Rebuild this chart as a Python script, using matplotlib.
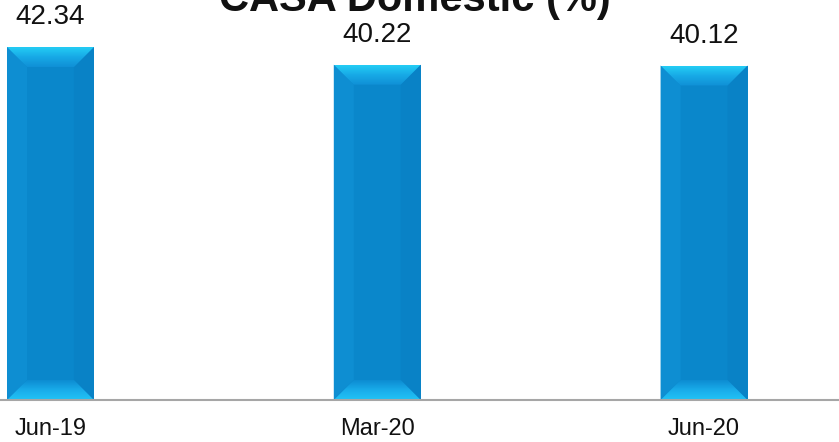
import numpy as np
import matplotlib
matplotlib.use("Agg")
import matplotlib.pyplot as plt
from matplotlib.patches import Polygon
from matplotlib.colors import LinearSegmentedColormap

plt.rcParams["font.family"] = ["Liberation Sans", "DejaVu Sans"]

periods = ["Jun-19", "Mar-20", "Jun-20"]
casa_values = [42.34, 40.22, 40.12]

face_color = "#0A87CB"
left_color = "#0E8ED2"
right_color = "#0982C6"
top_cmap = LinearSegmentedColormap.from_list("top", ["#1090D6", "#17A9E6", "#24CDF5"])
bottom_cmap = LinearSegmentedColormap.from_list("bot", ["#0D8CD2", "#19ACEA", "#22C4F6"])


def gradient_poly(ax, pts, cmap, flip=False):
    poly = Polygon(pts, closed=True, facecolor="none", edgecolor="none")
    ax.add_patch(poly)
    xs = [p[0] for p in pts]
    ys = [p[1] for p in pts]
    grad = np.linspace(0, 1, 64).reshape(-1, 1)
    if flip:
        grad = grad[::-1]
    im = ax.imshow(grad, cmap=cmap, aspect="auto", origin="lower",
                   extent=[min(xs), max(xs), min(ys), max(ys)], zorder=3)
    im.set_clip_path(poly)


fig = plt.figure(figsize=(8.39, 4.42), dpi=100)
ax = fig.add_axes([0, 42 / 442, 1, 400 / 442])

x = np.arange(len(periods))
width = 0.266
ax.bar(x, casa_values, width=width, color=face_color, zorder=2)

ax.set_xlim(-0.1545, 2.413)
ax.set_ylim(0, 47.98)

# bevel size, ~20 px, converted to data units
bev_px = 20
inv = ax.transData.inverted()
p0 = inv.transform((0, 0))
p1 = inv.transform((bev_px, bev_px))
dx = p1[0] - p0[0]
dy = p1[1] - p0[1]

for xi, v in zip(x, casa_values):
    l, r = xi - width / 2, xi + width / 2
    # side bevels
    ax.add_patch(Polygon([(l, 0), (l + dx, dy), (l + dx, v - dy), (l, v)],
                         closed=True, facecolor=left_color, edgecolor="none", zorder=3))
    ax.add_patch(Polygon([(r, 0), (r - dx, dy), (r - dx, v - dy), (r, v)],
                         closed=True, facecolor=right_color, edgecolor="none", zorder=3))
    # top bevel, lighter toward the top edge
    gradient_poly(ax, [(l, v), (r, v), (r - dx, v - dy), (l + dx, v - dy)], top_cmap)
    # bottom bevel, lighter toward the base
    gradient_poly(ax, [(l, 0), (r, 0), (r - dx, dy), (l + dx, dy)], bottom_cmap, flip=True)
    ax.annotate(f"{v:.2f}", (xi, v), xytext=(0, 12), textcoords="offset points",
                ha="center", va="bottom", fontsize=20, color="#111111")

ax.set_xticks(x)
ax.set_xticklabels(periods, fontsize=17, color="#111111")
ax.tick_params(axis="x", length=0, pad=13)
ax.set_yticks([])
for side in ["top", "left", "right"]:
    ax.spines[side].set_visible(False)
ax.spines["bottom"].set_color("#A6A6A6")
ax.spines["bottom"].set_linewidth(1.5)
ax.spines["bottom"].set_zorder(4)

fig.text(415 / 839, 1 - 11 / 442, "CASA Domestic (%)", ha="center", va="baseline",
         fontsize=30, fontweight="bold", color="#111111")

fig.savefig("out.png", dpi=100)
